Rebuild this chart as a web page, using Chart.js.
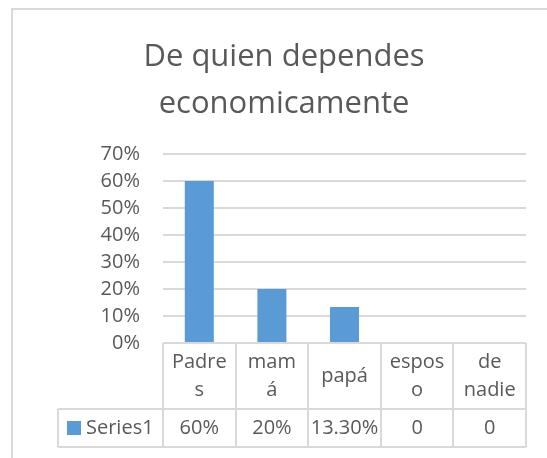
<!DOCTYPE html>
<html>
<head>
<meta charset="utf-8">
<title>De quien dependes economicamente</title>
<script src="https://cdn.jsdelivr.net/npm/chart.js@4/dist/chart.umd.min.js"></script>
<style>
  html, body { margin: 0; padding: 0; background: #fff; }
  #chart { display: block; }
</style>
</head>
<body>
<canvas id="chart" width="547" height="458"></canvas>
<script>
// data
const titleLines = ["De quien dependes", "economicamente"];
const seriesName = "Series1";
const categories = [["Padre", "s"], ["mam", "á"], "papá", ["espos", "o"], ["de", "nadie"]];
const values = [0.60, 0.20, 0.133, 0, 0];
const tableLabels = ["60%", "20%", "13.30%", "0", "0"];
const yTicks = [0, 0.1, 0.2, 0.3, 0.4, 0.5, 0.6, 0.7];

const barColor = "#5b9bd5";
const lineColor = "#d9d9d9";
const textColor = "#595959";
const fontFamily = "'Open Sans', sans-serif";

// frame round the chart + data table under the plot
const tablePlugin = {
  id: "dataTable",
  beforeDraw(chart) {
    const c = chart.ctx;
    c.save();
    c.strokeStyle = lineColor;
    c.lineWidth = 2;
    c.beginPath();
    c.moveTo(12, 458);
    c.lineTo(12, 9);
    c.lineTo(547, 9);
    c.stroke();
    c.restore();
  },
  afterDraw(chart) {
    const c = chart.ctx;
    const x = chart.scales.x;
    const area = chart.chartArea;
    const n = chart.data.labels.length;
    const w = (area.right - area.left) / n;
    const top = area.bottom;
    const mid = top + 66;
    const bottom = mid + 38;
    const keyLeft = 58;

    c.save();
    c.strokeStyle = lineColor;
    c.lineWidth = 2;
    c.beginPath();
    c.moveTo(area.left, top); c.lineTo(area.right, top);
    c.moveTo(keyLeft, mid); c.lineTo(area.right, mid);
    c.moveTo(keyLeft, bottom); c.lineTo(area.right, bottom);
    c.moveTo(keyLeft, mid); c.lineTo(keyLeft, bottom);
    for (let i = 0; i <= n; i++) {
      const px = Math.round(area.left + i * w);
      c.moveTo(px, top); c.lineTo(px, bottom);
    }
    c.stroke();

    c.fillStyle = textColor;
    c.font = "20px " + fontFamily;
    c.textAlign = "center";
    c.textBaseline = "middle";
    chart.data.labels.forEach((lab, i) => {
      const cx = x.getPixelForValue(i);
      const lines = Array.isArray(lab) ? lab : [lab];
      const lh = 28;
      let y = (top + mid) / 2 - (lines.length - 1) * lh / 2;
      lines.forEach(t => { c.fillText(t, cx, y); y += lh; });
      c.fillText(tableLabels[i], cx, (mid + bottom) / 2);
    });

    // legend key + series name
    c.fillStyle = barColor;
    c.fillRect(67, (mid + bottom) / 2 - 7, 14, 14);
    c.fillStyle = textColor;
    c.textAlign = "left";
    c.fillText(chart.data.datasets[0].label, 86, (mid + bottom) / 2);
    c.restore();
  }
};

new Chart(document.getElementById("chart"), {
  type: "bar",
  data: {
    labels: categories,
    datasets: [{
      label: seriesName,
      data: values,
      backgroundColor: barColor,
      barPercentage: 0.4,
      categoryPercentage: 1.0
    }]
  },
  options: {
    responsive: false,
    devicePixelRatio: 1,
    animation: false,
    layout: { padding: { top: 34, right: 21, bottom: 115, left: 42 } },
    plugins: {
      legend: { display: false },
      tooltip: { enabled: false },
      title: {
        display: true,
        text: titleLines,
        color: textColor,
        font: { family: fontFamily, size: 31, weight: "normal", lineHeight: 1.5 },
        padding: { top: 0, bottom: 27 }
      }
    },
    scales: {
      x: { display: false },
      y: {
        min: 0,
        max: 0.7,
        afterFit: s => { s.width = 121; },
        afterBuildTicks: s => { s.ticks = yTicks.map(v => ({ value: v })); },
        border: { display: false },
        grid: { color: lineColor, lineWidth: 2, drawTicks: false },
        ticks: {
          padding: 23,
          color: textColor,
          font: { family: fontFamily, size: 20 },
          callback: v => Math.round(v * 100) + "%"
        }
      }
    }
  },
  plugins: [tablePlugin]
});
</script>
</body>
</html>
